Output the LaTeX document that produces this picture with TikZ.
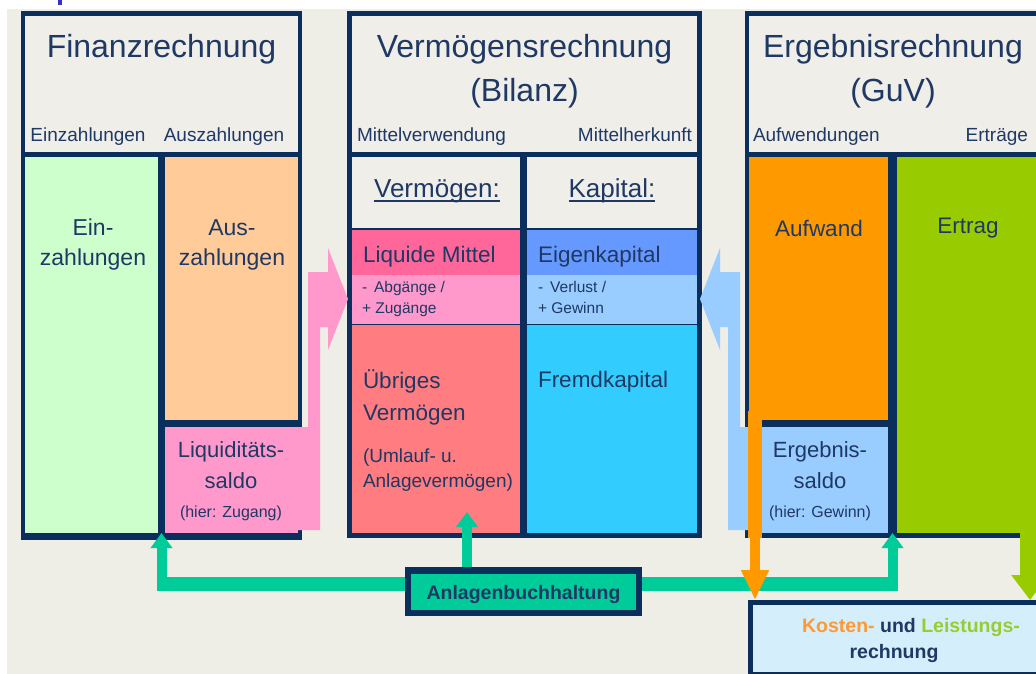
\documentclass[tikz,border=0pt]{standalone}
\usepackage{fontspec}
\setmainfont{Liberation Sans}
\usetikzlibrary{arrows.meta,calc}
\definecolor{bgc}{HTML}{EEEDE6}
\definecolor{hdr}{HTML}{EFEEE9}
\definecolor{navy}{HTML}{0A2F5C}
\definecolor{txt}{HTML}{1F3864}
\definecolor{einc}{HTML}{CCFFCC}
\definecolor{ausc}{HTML}{FFCC99}
\definecolor{pinkc}{HTML}{FF99CC}
\definecolor{liqc}{HTML}{FF6699}
\definecolor{uebc}{HTML}{FF7C80}
\definecolor{ekc}{HTML}{6699FF}
\definecolor{lbluec}{HTML}{99CCFF}
\definecolor{fkc}{HTML}{33CCFF}
\definecolor{aufc}{HTML}{FF9900}
\definecolor{ertc}{HTML}{99CC00}
\definecolor{tealc}{HTML}{00CC99}
\definecolor{klrc}{HTML}{D5EEFC}
\definecolor{kostc}{HTML}{FF9933}
\definecolor{leistc}{HTML}{99CC33}
\definecolor{titleblue}{HTML}{3333CC}
\begin{document}
\begin{tikzpicture}[x=1pt,y=-1pt,
  cell/.style={rectangle,inner sep=0pt,outer sep=0pt,anchor=north west,draw=none},
  sz/.style 2 args={minimum width=#1pt,minimum height=#2pt},
  lbl/.style={inner sep=0pt,outer sep=0pt,text=txt,font=\fontsize{#1pt}{#1pt}\selectfont},
  blbl/.style={inner sep=0pt,outer sep=0pt,text=txt,font=\fontsize{#1pt}{#1pt}\selectfont\bfseries},
  tealh/.style={draw=tealc,line width=14pt},
  tealv/.style={draw=tealc,line width=10pt,-{Triangle[width=21pt,length=15pt]}},
  orarrow/.style={draw=aufc,line width=10pt,-{Triangle[width=26pt,length=30pt]}},
  grarrow/.style={draw=ertc,line width=20pt,-{Triangle[width=36pt,length=25pt]}}
]
\useasboundingbox (0,0) rectangle (1036,674);
\clip (0,0) rectangle (1036,674);
\fill[white] (0,0) rectangle (1036,674);
\fill[bgc] (7,9) rectangle (1036,674);
% fragment of a cut-off title glyph at the top edge
\fill[titleblue] (57.5,0) rectangle (61.5,5);

% ---------- left panel: Finanzrechnung
\node[cell,fill=navy,sz={281}{529}] (fin) at (21,11) {};
\node[cell,fill=hdr,sz={273}{136}] (finhead) at (25,16) {};
\node[cell,fill=einc,sz={133}{376}] (einbox) at (25,157) {};
\node[cell,fill=ausc,sz={133}{263}] (ausbox) at (165,157) {};
\node[cell,fill=pinkc,sz={133}{106}] (liqbox) at (165,427) {};

% ---------- middle panel: Bilanz
\node[cell,fill=navy,sz={355}{527}] (bil) at (347,11) {};
\node[cell,fill=hdr,sz={345}{136}] (bilhead) at (352,16) {};
\node[cell,fill=hdr,sz={168}{71}] (vmhead) at (352,157) {};
\node[cell,fill=hdr,sz={170}{71}] (kaphead) at (527,157) {};
\node[cell,fill=liqc,sz={168}{45}] (liqm) at (352,230) {};
\node[cell,fill=pinkc,sz={168}{49}] (liqm2) at (352,275) {};
\node[cell,fill=uebc,sz={168}{208}] (uebr) at (352,325) {};
\node[cell,fill=ekc,sz={170}{45}] (ek) at (527,230) {};
\node[cell,fill=lbluec,sz={170}{49}] (ek2) at (527,275) {};
\node[cell,fill=fkc,sz={170}{208}] (fk) at (527,325) {};

% ---------- right panel: GuV
\node[cell,fill=navy,sz={330}{527}] (guv) at (745,11) {};
\node[cell,fill=hdr,sz={320}{136}] (guvhead) at (749,16) {};
\node[cell,fill=aufc,sz={139}{263}] (aufw) at (749,157) {};
\node[cell,fill=lbluec,sz={126}{106}] (ergs) at (762,427) {};
\node[cell,fill=ertc,sz={200}{376}] (ertr) at (897,157) {};

% ---------- teal connector (horizontal part)
\coordinate (fint) at ($(einbox.south east)!.5!(liqbox.south west)$);
\coordinate (guvt) at ($(ergs.south east)!.5!(ertr.south west)$);
\coordinate (uebrin) at (467,512);
\coordinate (hl) at (156.5,584);
\coordinate (hr) at (897.5,584);
\draw[tealh] (hl) -- (hr);

% ---------- block arrows (pink and light blue)
\fill[pinkc] (298,530) -- (320,530) -- (320,327) -- (328,327) -- (328,350) -- (348,299)
  -- (328,248) -- (328,272) -- (308,272) -- (308,427) -- (298,427) -- cycle;
\fill[lbluec] (750,530) -- (728,530) -- (728,327) -- (720,327) -- (720,350) -- (700,299)
  -- (720,248) -- (720,272) -- (740,272) -- (740,427) -- (750,427) -- cycle;

% ---------- Kosten- und Leistungsrechnung box
\node[cell,fill=navy,sz={340}{80}] (klrframe) at (748,600) {};
\node[cell,fill=klrc,sz={330}{67}] (klr) at (753,605) {};

% ---------- orange and green arrows
\node[cell,fill=aufc,sz={14}{127}] (aufstrip) at (748,411) {};
\draw[orarrow] (aufstrip.south) -- (aufstrip.south |- klrframe.north);
\coordinate (ertrout) at (1030,530);
\draw[grarrow] (ertrout) -- (ertrout |- klrframe.north);

% ---------- Anlagenbuchhaltung box
\node[cell,fill=navy,sz={237}{49}] (abhframe) at (405,567) {};
\node[cell,fill=tealc,sz={225}{36}] (abh) at (411,574) {};

% ---------- teal vertical arrows
\draw[tealv] (fint |- hl) -- (fint);
\draw[tealv] (guvt |- hl) -- (guvt);
\draw[tealv] (uebrin |- abhframe.north) -- (uebrin);

% ---------- texts: Finanzrechnung
\node[lbl=32,anchor=base] (t1) at (161.5,58) {Finanzrechnung};
\node[lbl=19,anchor=base] (t2) at (88,142) {Einzahlungen};
\node[lbl=19,anchor=base] (t3) at (224,142) {Auszahlungen};
\node[lbl=23,anchor=base] (t4) at (93,235) {Ein-};
\node[lbl=23,anchor=base] (t5) at (93,265) {zahlungen};
\node[lbl=23,anchor=base] (t6) at (232,235) {Aus-};
\node[lbl=23,anchor=base] (t7) at (232,265) {zahlungen};
\node[lbl=22,anchor=base] (t8) at (231,457) {Liquiditäts-};
\node[lbl=22,anchor=base] (t9) at (231,488) {saldo};
\node[lbl=16,anchor=base] (t10) at (231,517) {(hier: Zugang)};

% ---------- texts: Bilanz
\node[lbl=32,anchor=base] (t11) at (524.5,58) {Vermögensrechnung};
\node[lbl=32,anchor=base] (t12) at (524.5,102) {(Bilanz)};
\node[lbl=19,anchor=base west] (t13) at (357,142) {Mittelverwendung};
\node[lbl=19,anchor=base east] (t14) at (692,142) {Mittelherkunft};
\node[lbl=26,anchor=base] (vm) at (437,197) {Vermögen:};
\node[lbl=26,anchor=base] (kp) at (612,197) {Kapital:};
\draw[txt,line width=2.2pt] ([yshift=-4pt]vm.base west) -- ([yshift=-4pt]vm.base east);
\draw[txt,line width=2.2pt] ([yshift=-4pt]kp.base west) -- ([yshift=-4pt]kp.base east);
\node[lbl=22.5,anchor=base west] (t15) at (363,262) {Liquide Mittel};
\node[lbl=15.5,anchor=base west] (t16) at (362,292) {-\hspace{7pt}Abgänge /};
\node[lbl=15.5,anchor=base west] (t17) at (362,313) {+ Zugänge};
\node[lbl=22.5,anchor=base west] (t18) at (538,262) {Eigenkapital};
\node[lbl=15.5,anchor=base west] (t19) at (538,292) {-\hspace{7pt}Verlust /};
\node[lbl=15.5,anchor=base west] (t20) at (538,313) {+ Gewinn};
\node[lbl=22.5,anchor=base west] (t21) at (363,388) {Übriges};
\node[lbl=22.5,anchor=base west] (t22) at (363,420) {Vermögen};
\node[lbl=19,anchor=base west] (t23) at (363,462) {(Umlauf- u.};
\node[lbl=19,anchor=base west] (t24) at (363,487) {Anlagevermögen)};
\node[lbl=22.5,anchor=base west] (t25) at (538,387) {Fremdkapital};

% ---------- texts: GuV
\node[lbl=32,anchor=base] (t26) at (893,58) {Ergebnisrechnung};
\node[lbl=32,anchor=base] (t27) at (893,102) {(GuV)};
\node[lbl=19,anchor=base west] (t28) at (753,142) {Aufwendungen};
\node[lbl=19,anchor=base east] (t29) at (1028,142) {Erträge};
\node[lbl=22.5,anchor=base] (t30) at (819,236) {Aufwand};
\node[lbl=22.5,anchor=base] (t31) at (968,233) {Ertrag};
\node[lbl=22,anchor=base] (t32) at (820,457) {Ergebnis-};
\node[lbl=22,anchor=base] (t33) at (820,488) {saldo};
\node[lbl=16,anchor=base] (t34) at (820,517) {(hier: Gewinn)};

% ---------- bottom texts
\node[blbl=19.5,anchor=base] (t35) at (523.5,599) {Anlagenbuchhaltung};
\node[blbl=19.5,anchor=base] (t36) at (911,632) {\textcolor{kostc}{Kosten-} und \textcolor{leistc}{Leistungs-}};
\node[blbl=19.5,anchor=base] (t37) at (894,658) {rechnung};
\end{tikzpicture}
\end{document}
